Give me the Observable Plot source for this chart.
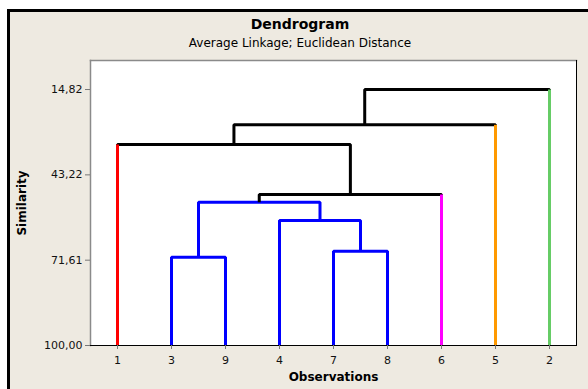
<!DOCTYPE html>
<html>
<head>
<meta charset="utf-8">
<script src="https://cdn.jsdelivr.net/npm/d3@7"></script>
<script src="https://cdn.jsdelivr.net/npm/@observablehq/plot@0.6"></script>
<style>
  html, body { margin: 0; padding: 0; background: #ffffff; }
  #wrap { position: relative; width: 588px; height: 389px; overflow: hidden; background: #ffffff; font-family: "DejaVu Sans", sans-serif; }
  #panel { position: absolute; left: 7px; top: 9px; width: 700px; height: 500px; background: #eeeae1; border-left: 3px solid #000; border-top: 3px solid #000; }
  #title { position: absolute; left: 0; width: 600px; top: 16px; text-align: center; font-size: 14px; font-weight: bold; color: #000; line-height: normal; }
  #subtitle { position: absolute; left: 0; width: 600px; top: 35.5px; text-align: center; font-size: 12px; color: #000; line-height: normal; }
  #chart { position: absolute; left: 0; top: 0; }
</style>
</head>
<body>
<div id="wrap">
  <div id="panel"></div>
  <div id="chart"></div>
  <div id="title">Dendrogram</div>
  <div id="subtitle">Average Linkage; Euclidean Distance</div>
</div>
<script>
// ---- data ----
const leaves = ["1", "3", "9", "4", "7", "8", "6", "5", "2"];      // leaf order on the x axis
const leafGroup = [0, 1, 1, 1, 1, 1, 2, 3, 4];                      // final cluster of each leaf
const joinLeft = ["3", "7", "4", "3", "3", "1", "1", "1"];          // amalgamation steps
const joinRight = ["9", "8", "7", "4", "6", "3", "5", "2"];
const similarity = [70.62, 68.62, 58.40, 52.31, 49.75, 33.11, 26.56, 14.82];
const yTicks = [100, 71.61, 43.22, 14.82];
const yAxisTop = 5.16;

// ---- styles ----
const groupColors = ["#ff0000", "#0000ff", "#ff00ff", "#ff9900", "#66cc66"];
const linkColor = "#000000";

// ---- build dendrogram segments ----
const nodeOf = new Map();
leaves.forEach((id, i) => nodeOf.set(id, {pos: i + 1, h: 100, leaf: true, members: [id], groups: new Set([leafGroup[i]])}));
const uPaths = [];
const leafLinks = [];
joinLeft.forEach((l, s) => {
  const a = nodeOf.get(l), b = nodeOf.get(joinRight[s]);
  const h = similarity[s];
  const groups = new Set([...a.groups, ...b.groups]);
  const color = groups.size === 1 ? groupColors[[...groups][0]] : linkColor;
  const pts = [[a.pos, a.h], [a.pos, h], [b.pos, h], [b.pos, b.h]];
  pts.forEach(([x, y]) => uPaths.push({step: s, x, y, color}));
  for (const c of [a, b]) {
    if (c.leaf) leafLinks.push({x: c.pos, y1: c.h, y2: h, color: groupColors[[...c.groups][0]]});
  }
  const node = {pos: (a.pos + b.pos) / 2, h, leaf: false, members: [...a.members, ...b.members], groups};
  node.members.forEach(m => nodeOf.set(m, node));
});

const fmt = d => d.toFixed(2).replace(".", ",");

const chart = Plot.plot({
  width: 588,
  height: 389,
  marginTop: 60,
  marginLeft: 90,
  marginRight: 12,
  marginBottom: 44,
  style: {background: "transparent", fontFamily: "DejaVu Sans, sans-serif", fontSize: "11px"},
  x: {type: "linear", domain: [0.5, leaves.length + 0.5]},
  y: {type: "linear", domain: [100, yAxisTop]},
  color: {type: "identity"},
  marks: [
    Plot.frame({fill: "#ffffff", stroke: null}),
    Plot.line(uPaths, {x: "x", y: "y", z: "step", stroke: "color", strokeWidth: 3, strokeLinejoin: "miter", strokeLinecap: "butt"}),
    Plot.link(leafLinks, {x1: "x", x2: "x", y1: "y1", y2: "y2", stroke: "color", strokeWidth: 3, strokeLinecap: "butt"}),
    Plot.frame({anchor: "left", stroke: "#8a8a8a", strokeWidth: 1.5}),
    Plot.frame({anchor: "top", stroke: "#8a8a8a", strokeWidth: 1.5}),
    Plot.frame({anchor: "right", stroke: "#000000"}),
    Plot.frame({anchor: "bottom", stroke: "#000000"}),
    Plot.axisX({ticks: d3.range(1, leaves.length + 1), tickFormat: i => leaves[i - 1], tickSize: 4, tickPadding: 7, stroke: "#777", fill: "#111", fontSize: 11, label: null}),
    Plot.axisY({ticks: yTicks, tickFormat: fmt, tickSize: 5, tickPadding: 3, stroke: "#777", fill: "#111", fontSize: 11, label: null}),
    Plot.text(["Similarity"], {frameAnchor: "left", rotate: -90, dx: -68, textAnchor: "middle", fontWeight: "bold", fontSize: 12, fill: "#000"}),
    Plot.text(["Observations"], {frameAnchor: "bottom", dy: 32, textAnchor: "middle", lineAnchor: "middle", fontWeight: "bold", fontSize: 12, fill: "#000"})
  ]
});
document.getElementById("chart").appendChild(chart);
</script>
</body>
</html>
